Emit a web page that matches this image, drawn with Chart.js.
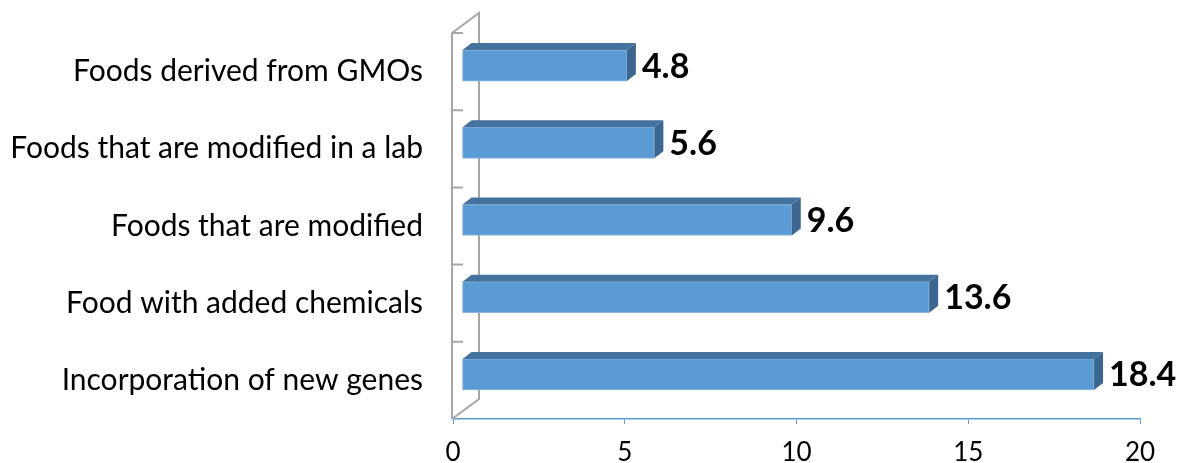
<!DOCTYPE html>
<html>
<head>
<meta charset="utf-8">
<script src="https://cdn.jsdelivr.net/npm/chart.js@4.4.0/dist/chart.umd.min.js"></script>
<style>
  html, body { margin: 0; padding: 0; background: #fff; }
  #wrap { width: 1179px; height: 463px; position: relative; }
</style>
</head>
<body>
<div id="wrap"><canvas id="c" width="1179" height="463"></canvas></div>
<script>
const categories = [
  'Foods derived from GMOs',
  'Foods that are modified in a lab',
  'Foods that are modified',
  'Food with added chemicals',
  'Incorporation of new genes'
];
const values = [4.8, 5.6, 9.6, 13.6, 18.4];
const xTicks = [0, 5, 10, 15, 20];

const FRONT = '#5b9bd5', TOP = '#44739f', SIDE = '#3b6690';
const DX = 9, DY = -6;      // bar front-face offset into depth
const FX = 9, FY = -7;      // bar depth
const WX = 27, WY = -20;    // full wall depth

const threeD = {
  id: 'threeD',
  beforeDatasetsDraw(chart) {
    const ctx = chart.ctx, ca = chart.chartArea, ys = chart.scales.y;
    const x0 = ca.left - 1;
    ctx.save();
    ctx.strokeStyle = '#a6a6a6';
    ctx.lineWidth = 2;
    ctx.beginPath();
    ctx.moveTo(x0, ca.bottom); ctx.lineTo(x0, ca.top);
    ctx.lineTo(x0 + WX, ca.top + WY); ctx.lineTo(x0 + WX, ca.bottom + WY);
    ctx.lineTo(x0, ca.bottom);
    ctx.stroke();
    const band = (ca.bottom - ca.top) / categories.length;
    ctx.beginPath();
    for (let i = 0; i < categories.length; i++) {
      const yb = ys.getPixelForValue(i) - band / 2;
      ctx.moveTo(x0, yb); ctx.lineTo(x0 + 11, yb);
    }
    ctx.stroke();
    ctx.restore();
    ctx.save();
    ctx.translate(DX, DY);
  },
  afterDatasetsDraw(chart) {
    const ctx = chart.ctx;
    const meta = chart.getDatasetMeta(0);
    meta.data.forEach((el) => {
      const p = el.getProps(['x', 'y', 'base', 'height'], true);
      const t = p.y - p.height / 2, b = p.y + p.height / 2;
      ctx.fillStyle = TOP;
      ctx.beginPath();
      ctx.moveTo(p.base, t); ctx.lineTo(p.base + FX, t + FY);
      ctx.lineTo(p.x + FX, t + FY); ctx.lineTo(p.x, t);
      ctx.closePath(); ctx.fill();
      ctx.fillStyle = SIDE;
      ctx.beginPath();
      ctx.moveTo(p.x, t); ctx.lineTo(p.x + FX, t + FY);
      ctx.lineTo(p.x + FX, b + FY); ctx.lineTo(p.x, b);
      ctx.closePath(); ctx.fill();
    });
    ctx.restore();
    ctx.save();
    ctx.font = 'bold 34px Lato';
    ctx.fillStyle = '#000';
    ctx.textBaseline = 'middle';
    ctx.textAlign = 'left';
    meta.data.forEach((el, i) => {
      const p = el.getProps(['x', 'y'], true);
      ctx.fillText(String(values[i]), p.x + DX + FX + 6, p.y + DY + 1);
    });
    ctx.restore();
  }
};

new Chart(document.getElementById('c'), {
  type: 'bar',
  data: {
    labels: categories,
    datasets: [{
      data: values,
      backgroundColor: FRONT,
      borderColor: '#8cb6df',
      borderWidth: 1,
      borderSkipped: false,
      barThickness: 31
    }]
  },
  options: {
    indexAxis: 'y',
    responsive: false,
    animation: false,
    events: [],
    layout: { padding: { top: 33, right: 39, left: 0, bottom: 0 } },
    plugins: { legend: { display: false }, tooltip: { enabled: false } },
    scales: {
      x: {
        min: 0, max: 20,
        afterBuildTicks: (s) => { s.ticks = xTicks.map(v => ({ value: v })); },
        afterFit: (s) => { s.height = 44; s.paddingLeft = 0; s.paddingRight = 0; },
        grid: { display: true, drawOnChartArea: false, drawTicks: true, tickLength: 5, color: '#5b9bd5' },
        border: { display: true, color: '#5b9bd5', width: 1.5 },
        ticks: { font: { family: 'Lato', size: 26 }, color: '#000', padding: 13 }
      },
      y: {
        afterFit: (s) => { s.width = 453; s.paddingTop = 0; s.paddingBottom = 0; },
        grid: { display: false },
        border: { display: false },
        ticks: { font: { family: 'Lato', size: 30 }, color: '#000', padding: 22 }
      }
    }
  },
  plugins: [threeD]
});
</script>
</body>
</html>
